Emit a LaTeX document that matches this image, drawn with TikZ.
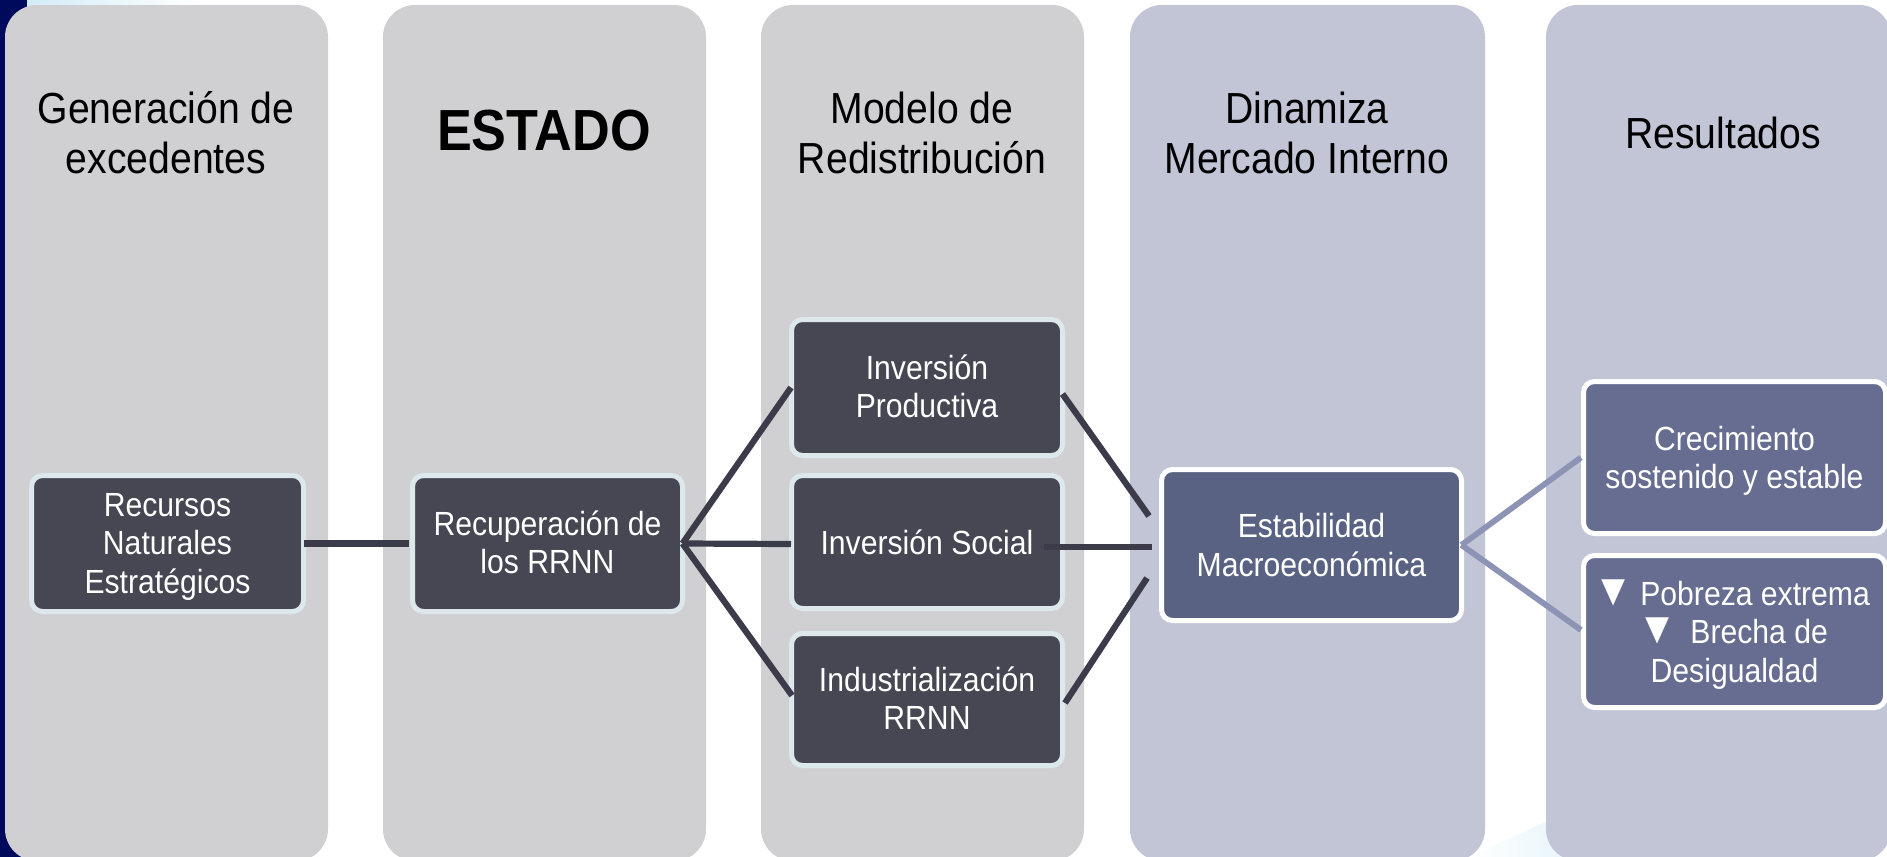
\documentclass[tikz,border=0pt]{standalone}
\usepackage{fontspec}
\setmainfont[FakeStretch=0.9]{Liberation Sans}
\usetikzlibrary{calc}
\definecolor{navy}{HTML}{000A5C}
\definecolor{graypanel}{HTML}{D0D0D2}
\definecolor{bluepanel}{HTML}{C1C5D6}
\definecolor{darkbox}{HTML}{474754}
\definecolor{midbox}{HTML}{596282}
\definecolor{resbox}{HTML}{666D91}
\definecolor{palerim}{HTML}{DDE8EC}
\definecolor{darkline}{HTML}{3B3B49}
\definecolor{paleline}{HTML}{8C93B5}
\definecolor{paleblue}{HTML}{D2ECF6}
\newcommand{\dropstrut}[1]{\rule{0pt}{#1}}
\newcommand{\liftstrut}[1]{\rule[-#1]{0pt}{1pt}}
\newcommand{\bigtri}{{\fontsize{22.5pt}{19.25pt}\selectfont ▼}}
\tikzset{
  panel/.style={rounded corners=16pt,inner sep=0pt,outer sep=0pt,draw=none},
  title/.style={font=\fontsize{21.75pt}{25pt}\selectfont,align=center,text=black,inner sep=0pt},
  boxbase/.style={rounded corners=5.5pt,inner sep=0pt,outer sep=0pt,line width=2.5pt,align=center,text=white,
    font=\fontsize{16.75pt}{19.25pt}\selectfont},
  darkb/.style={boxbase,draw=palerim,fill=darkbox},
  midb/.style={boxbase,draw=white,fill=midbox},
  resb/.style={boxbase,draw=white,fill=resbox},
  darkc/.style={draw=darkline,line width=3.1pt},
  palec/.style={draw=paleline,line width=2.9pt}
}
\begin{document}
\begin{tikzpicture}[x=0.5pt,y=-0.5pt]
\useasboundingbox (0,0) rectangle (1887,857);
% backdrop
\fill[navy] (0,0) rectangle (27,857);
\fill[white] (27,0) rectangle (1887,857);
\fill[navy] (0,0) rectangle (27,6);
\shade[left color=paleblue,right color=white] (27,0) rectangle (200,8);
\fill[navy] (0,800) rectangle (60,857);
\shade[shading angle=20,left color=white,right color=paleblue!70] (1470,857) -- (1560,815) -- (1600,857) -- cycle;
% panels
\node[panel,fill=graypanel,minimum width=161.5pt,minimum height=428pt] (p1) at (166.5,433) {};
\node[panel,fill=graypanel,minimum width=161.5pt,minimum height=428pt] (p2) at (544.5,433) {};
\node[panel,fill=graypanel,minimum width=161.5pt,minimum height=428pt] (p3) at (922.5,433) {};
\node[panel,fill=bluepanel,minimum width=177.5pt,minimum height=428pt] (p4) at (1307.5,433) {};
\node[panel,fill=bluepanel,minimum width=172.5pt,minimum height=428pt] (p5) at (1718.5,433) {};
% titles
\node[title] (t1) at (166,133) {Generación de\\excedentes};
\node[title,font=\bfseries\fontsize{29pt}{33pt}\selectfont] (t2) at (544,131) {ESTADO};
\node[title] (t3) at (922,133) {Modelo de\\Redistribución};
\node[title] (t4) at (1307,133) {Dinamiza\\Mercado Interno};
\node[title] (t5) at (1723,133) {Resultados};
% boxes
\node[darkb,minimum width=136pt,minimum height=68pt] (rec) at (167.5,543.5) {\dropstrut{14.6pt}Recursos\\Naturales\\Estratégicos};
\node[darkb,minimum width=135pt,minimum height=68pt] (rcp) at (547.5,543.5) {Recuperación de\\los RRNN\liftstrut{1.2pt}};
\node[darkb,minimum width=135.5pt,minimum height=68pt] (prod) at (927,387.5) {Inversión\\Productiva\liftstrut{1.2pt}};
\node[darkb,minimum width=135.5pt,minimum height=66.5pt] (soc) at (927,542) {Inversión Social};
\node[darkb,minimum width=135.5pt,minimum height=66pt] (ind) at (927,699.5) {Industrialización\\RRNN\liftstrut{1.2pt}};
\node[midb,minimum width=150pt,minimum height=75.5pt] (est) at (1311.5,545) {Estabilidad\\Macroeconómica};
\node[resb,minimum width=151pt,minimum height=76pt] (cre) at (1734.5,457.5) {\dropstrut{15.6pt}Crecimiento\\sostenido y estable};
\node[resb,minimum width=151pt,minimum height=76pt] (pob) at (1734.5,631.5) {\dropstrut{15.6pt}\bigtri{}\kern-0.6pt{} Pobreza extrema\kern3pt\\\bigtri{}\kern-1.8pt{}~~Brecha de\kern2pt\\Desigualdad};
% connectors
\draw[darkc] (rec.east) -- ([xshift=-1.75pt]rcp.west);
\draw[darkc] (rcp.east) -- ([xshift=-0.25pt]prod.west);
\draw[darkc] (rcp.east) -- ([xshift=-0.25pt,yshift=-1pt]soc.west);
\draw[darkc] (rcp.east) -- ([xshift=0.25pt,yshift=2pt]ind.west);
\draw[darkc] ([yshift=-3.25pt]prod.east) -- ([xshift=-6.25pt,yshift=14.5pt]est.west);
\draw[darkc] ([xshift=-9.25pt,yshift=-2.5pt]soc.east) -- ([xshift=-4.75pt,yshift=-1pt]est.west);
\draw[darkc] ([xshift=1.25pt,yshift=-1.75pt]ind.east) -- ([xshift=-7.25pt,yshift=-16.5pt]est.west);
\draw[palec] (est.east) -- ([xshift=-1.25pt]cre.west);
\draw[palec] (est.east) -- ([xshift=-1.25pt,yshift=0.75pt]pob.west);
\end{tikzpicture}
\end{document}
